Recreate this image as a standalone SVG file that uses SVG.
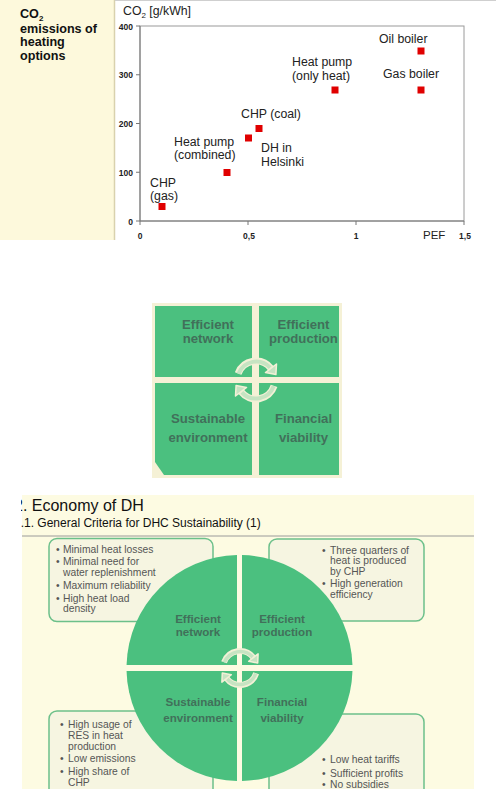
<svg xmlns="http://www.w3.org/2000/svg" width="496" height="789" viewBox="0 0 496 789">
<style>
text{font-family:"Liberation Sans",Arial,sans-serif}
.lbl{font-size:12.3px;fill:#222}
.tick{font-size:8.5px;font-weight:bold;fill:#222}
.pt{fill:#e00000}
.q{fill:#4bc07f}
.qt{font-weight:bold;fill:#41705a;text-anchor:middle}
.mid{font-size:13.2px}
.cir{font-size:11.6px}
.box{fill:#f6f5e1;stroke:#6cc08a;stroke-width:1.5}
.bt{font-size:10.3px;fill:#555}
.band-o{fill:none;stroke:#f3f0d6}
.band-i{fill:none;stroke:#c6e4c2}
.head{fill:#c6e4c2;stroke:#f3f0d6;stroke-width:1.5;stroke-linejoin:round}
</style>
<defs>
<clipPath id="slide"><rect x="21" y="495" width="453" height="294"/></clipPath>
</defs>
<rect width="496" height="789" fill="#fff"/>

<!-- Top chart panel -->
<g id="chart-title">
<rect x="0" y="0" width="114" height="240" fill="#fdf9dc"/>
<line x1="114.5" y1="0" x2="114.5" y2="240" stroke="#d9d2ae" stroke-width="1.5"/>
<line x1="115" y1="0.5" x2="496" y2="0.5" stroke="#cfcfcf" stroke-width="1"/>
<text x="20" y="18" font-size="12.6" font-weight="bold" fill="#111">CO<tspan font-size="8" dy="3">2</tspan></text>
<text x="20" y="32.5" font-size="12.6" font-weight="bold" fill="#111">emissions of</text>
<text x="20" y="46" font-size="12.6" font-weight="bold" fill="#111">heating</text>
<text x="20" y="59.5" font-size="12.6" font-weight="bold" fill="#111">options</text>
</g>
<g id="chart-axes">
<rect x="140" y="26" width="324" height="195" fill="none" stroke="#9a9a9a" stroke-width="1"/>
<line x1="140" y1="26" x2="140" y2="221" stroke="#777" stroke-width="1"/>
<line x1="140" y1="221" x2="464" y2="221" stroke="#777" stroke-width="1"/>
<g stroke="#777" stroke-width="1">
<line x1="136" y1="26" x2="140" y2="26"/><line x1="136" y1="74.75" x2="140" y2="74.75"/>
<line x1="136" y1="123.5" x2="140" y2="123.5"/><line x1="136" y1="172.25" x2="140" y2="172.25"/>
<line x1="136" y1="221" x2="140" y2="221"/>
<line x1="140" y1="221" x2="140" y2="225"/><line x1="248" y1="221" x2="248" y2="225"/>
<line x1="356" y1="221" x2="356" y2="225"/><line x1="464" y1="221" x2="464" y2="225"/>
</g>
<g class="tick" text-anchor="end">
<text x="133" y="29.5">400</text><text x="133" y="78">300</text><text x="133" y="127">200</text>
<text x="133" y="175.5">100</text><text x="133" y="224.5">0</text>
</g>
<g class="tick" text-anchor="middle">
<text x="140" y="238.5">0</text><text x="249" y="238.5">0,5</text><text x="356" y="238.5">1</text><text x="465" y="238.5">1,5</text>
</g>
<text x="423" y="238.5" font-size="11.5" fill="#222">PEF</text>
<text x="123" y="15" class="lbl">CO<tspan font-size="8" dy="3">2</tspan><tspan dy="-3"> [g/kWh]</tspan></text>
</g>
<g id="pt-chp-gas"><rect class="pt" x="158.5" y="203" width="7" height="7"/><text class="lbl" x="150" y="186.5">CHP</text><text class="lbl" x="150" y="199.5">(gas)</text></g>
<g id="pt-hp-combined"><rect class="pt" x="223.5" y="169" width="7" height="7"/><text class="lbl" x="174" y="146">Heat pump</text><text class="lbl" x="174" y="158.5">(combined)</text></g>
<g id="pt-dh-helsinki"><rect class="pt" x="245" y="134.5" width="7" height="7"/><text class="lbl" x="261" y="152">DH in</text><text class="lbl" x="261" y="166">Helsinki</text></g>
<g id="pt-chp-coal"><rect class="pt" x="255.5" y="125" width="7" height="7"/><text class="lbl" x="241" y="118">CHP (coal)</text></g>
<g id="pt-hp-only"><rect class="pt" x="331.5" y="86.5" width="7" height="7"/><text class="lbl" x="292" y="66">Heat pump</text><text class="lbl" x="292" y="79.5">(only heat)</text></g>
<g id="pt-gas-boiler"><rect class="pt" x="417.5" y="86.5" width="7" height="7"/><text class="lbl" x="383" y="77.5">Gas boiler</text></g>
<g id="pt-oil-boiler"><rect class="pt" x="417.5" y="47.5" width="7" height="7"/><text class="lbl" x="379" y="42.5">Oil boiler</text></g>

<!-- Middle quadrant graphic -->
<rect x="152" y="303" width="190" height="175" fill="#f5f1d6"/>
<g id="mid-efficient-network"><rect class="q" x="155" y="306" width="97" height="71"/><text class="qt mid" x="208" y="329">Efficient</text><text class="qt mid" x="208" y="343">network</text></g>
<g id="mid-efficient-production"><rect class="q" x="259" y="306" width="80" height="71"/><text class="qt mid" x="303.5" y="329">Efficient</text><text class="qt mid" x="303.5" y="343">production</text></g>
<g id="mid-sustainable-environment"><path class="q" d="M155,383 H252 V475 H164 L155,462 Z"/><text class="qt mid" x="208" y="422.5">Sustainable</text><text class="qt mid" x="208" y="441.5">environment</text></g>
<g id="mid-financial-viability"><rect class="q" x="259" y="383" width="80" height="92"/><text class="qt mid" x="303.5" y="422.5">Financial</text><text class="qt mid" x="303.5" y="441.5">viability</text></g>

<!-- Bottom slide -->
<g id="slide-bg">
<rect x="22" y="495" width="452" height="294" fill="#fdfbe2"/>
<g clip-path="url(#slide)">
<text x="14" y="511" font-size="16" fill="#111">2.  Economy of DH</text>
<text x="14" y="527" font-size="12" fill="#111">2.1. General Criteria for DHC Sustainability (1)</text>
</g>
<line x1="22" y1="536" x2="474" y2="536" stroke="#9a9a9a" stroke-width="1"/>
</g>
<g id="box-network">
<rect class="box" x="49" y="538.5" width="164" height="83" rx="8"/>
<text class="bt"><tspan x="56" y="552.5">•</tspan><tspan x="63">Minimal heat losses</tspan><tspan x="56" y="565">•</tspan><tspan x="63">Minimal need for</tspan><tspan x="63" y="576">water replenishment</tspan><tspan x="56" y="588.5">•</tspan><tspan x="63">Maximum reliability</tspan><tspan x="56" y="601.5">•</tspan><tspan x="63">High heat load</tspan><tspan x="63" y="612">density</tspan></text>
</g>
<g id="box-production">
<rect class="box" x="269" y="539" width="155" height="82" rx="8"/>
<text class="bt"><tspan x="322" y="553.5">•</tspan><tspan x="330">Three quarters of</tspan><tspan x="330" y="564">heat is produced</tspan><tspan x="330" y="574.5">by CHP</tspan><tspan x="322" y="586.5">•</tspan><tspan x="330">High generation</tspan><tspan x="330" y="597.5">efficiency</tspan></text>
</g>
<g id="box-environment">
<rect class="box" x="49" y="711" width="164" height="95" rx="8"/>
<text class="bt"><tspan x="60" y="727.5">•</tspan><tspan x="68">High usage of</tspan><tspan x="68" y="739">RES in heat</tspan><tspan x="68" y="749.5">production</tspan><tspan x="60" y="762">•</tspan><tspan x="68">Low emissions</tspan><tspan x="60" y="775">•</tspan><tspan x="68">High share of</tspan><tspan x="68" y="786">CHP</tspan></text>
</g>
<g id="box-financial">
<rect class="box" x="269" y="714" width="155" height="95" rx="8"/>
<text class="bt"><tspan x="322" y="762.5">•</tspan><tspan x="330">Low heat tariffs</tspan><tspan x="322" y="777">•</tspan><tspan x="330">Sufficient profits</tspan><tspan x="322" y="788">•</tspan><tspan x="330">No subsidies</tspan></text>
</g>
<g id="circle-efficient-network"><path class="q" d="M237,665 L237,555.03 A113,113 0 0 0 126.54,665 Z"/><text class="qt cir" x="198" y="622.5">Efficient</text><text class="qt cir" x="198" y="635.5">network</text></g>
<g id="circle-efficient-production"><path class="q" d="M242,665 L352.46,665 A113,113 0 0 0 242,555.03 Z"/><text class="qt cir" x="282" y="622.5">Efficient</text><text class="qt cir" x="282" y="635.5">production</text></g>
<g id="circle-sustainable-environment"><path class="q" d="M237,671 L126.54,671 A113,113 0 0 0 237,780.97 Z"/><text class="qt cir" x="198" y="705.5">Sustainable</text><text class="qt cir" x="198" y="722">environment</text></g>
<g id="circle-financial-viability"><path class="q" d="M242,671 L242,780.97 A113,113 0 0 0 352.46,671 Z"/><text class="qt cir" x="282" y="705.5">Financial</text><text class="qt cir" x="282" y="722">viability</text></g>

<!-- Cycle arrows -->
<g id="connectors">
<g id="mid-cycle">
<path class="band-o" stroke-width="7" d="M238.15,373.5 A19,19 0 0 1 270.97,368.3"/>
<polygon class="head" points="265.46,372.61 276.49,363.99 275.9,374.6"/>
<path class="band-i" stroke-width="4" d="M238.5,373.7 A19,19 0 0 1 270.2,367.7"/>
<path class="band-o" stroke-width="7" d="M274.07,385.87 A19,19 0 0 1 241.03,391.7"/>
<polygon class="head" points="246.54,387.39 235.51,396.01 236.1,385.4"/>
<path class="band-i" stroke-width="4" d="M273.7,386.1 A19,19 0 0 1 241.8,392.3"/>
</g>
<g id="circle-cycle">
<path class="band-o" stroke-width="6" d="M224.03,662.19 A17,17 0 0 1 253.4,657.53"/>
<polygon class="head" points="248.67,661.23 258.12,653.84 257.71,663.05"/>
<path class="band-i" stroke-width="3.5" d="M224.4,662.4 A17,17 0 0 1 252.7,657"/>
<path class="band-o" stroke-width="6" d="M256.17,673.25 A17,17 0 0 1 226.6,678.47"/>
<polygon class="head" points="231.33,674.77 221.88,682.16 222.29,672.95"/>
<path class="band-i" stroke-width="3.5" d="M255.8,673.5 A17,17 0 0 1 227.3,679"/>
</g>
</g>
</svg>
